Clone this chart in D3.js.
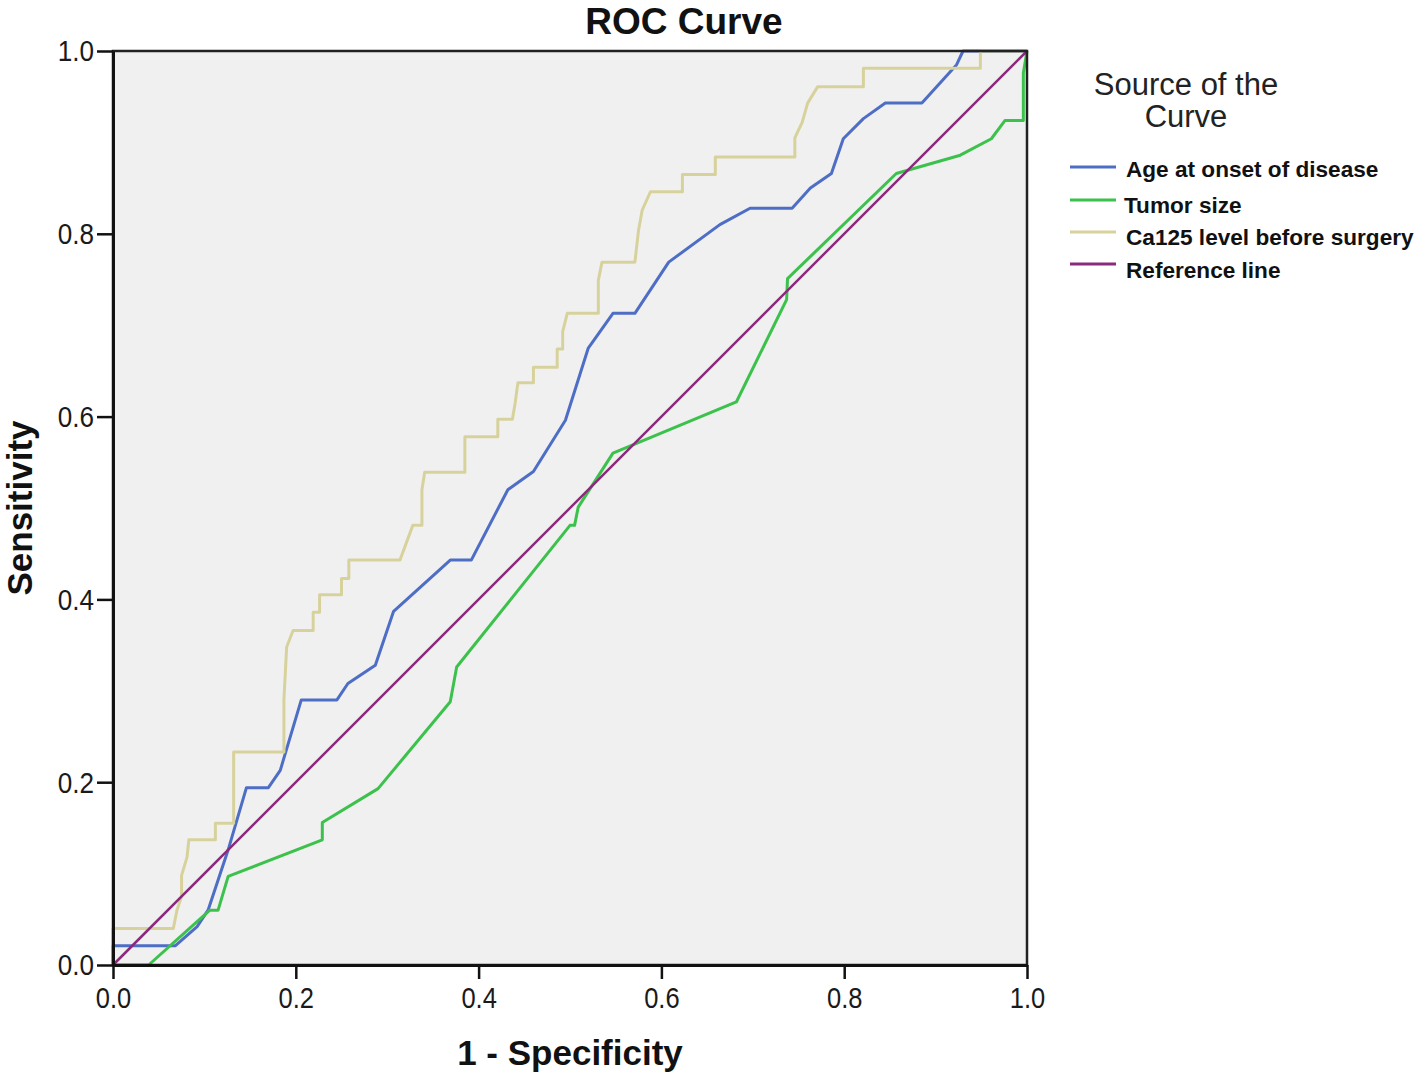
<!DOCTYPE html>
<html>
<head>
<meta charset="utf-8">
<script src="https://cdn.jsdelivr.net/npm/d3@7"></script>
<style>
  html, body { margin: 0; padding: 0; background: #ffffff; }
  svg { display: block; }
</style>
</head>
<body>
<svg id="chart" width="1418" height="1077"></svg>
<script>
// ---------- Data ----------
const chartTitle = "ROC Curve";
const xAxisTitle = "1 - Specificity";
const yAxisTitle = "Sensitivity";
const legendTitle = ["Source of the", "Curve"];
const tickValues = [0, 0.2, 0.4, 0.6, 0.8, 1.0];

const seriesNames = ["Age at onset of disease", "Tumor size", "Ca125 level before surgery", "Reference line"];

const ageFpr = [0, 0, 0.068, 0.092, 0.104, 0.126, 0.146, 0.170, 0.183, 0.206, 0.245, 0.257, 0.287, 0.307, 0.369, 0.392, 0.432, 0.460, 0.495, 0.520, 0.547, 0.571, 0.608, 0.664, 0.697, 0.743, 0.763, 0.786, 0.799, 0.821, 0.845, 0.885, 0.923, 0.930, 0.947, 1.0];
const ageTpr = [0, 0.021, 0.021, 0.042, 0.060, 0.126, 0.194, 0.194, 0.213, 0.290, 0.290, 0.308, 0.328, 0.387, 0.443, 0.443, 0.520, 0.540, 0.596, 0.675, 0.713, 0.713, 0.769, 0.810, 0.828, 0.828, 0.850, 0.866, 0.904, 0.926, 0.943, 0.943, 0.985, 1.0, 1.0, 1.0];

const tumorFpr = [0, 0.039, 0.106, 0.115, 0.126, 0.229, 0.229, 0.290, 0.369, 0.376, 0.500, 0.505, 0.509, 0.547, 0.682, 0.737, 0.738, 0.857, 0.927, 0.961, 0.976, 0.996, 0.996, 1.0];
const tumorTpr = [0, 0, 0.060, 0.060, 0.097, 0.137, 0.156, 0.193, 0.288, 0.326, 0.481, 0.481, 0.501, 0.560, 0.616, 0.728, 0.751, 0.866, 0.886, 0.904, 0.924, 0.924, 0.976, 1.0];

const ca125Fpr = [0, 0, 0.066, 0.070, 0.075, 0.075, 0.081, 0.083, 0.112, 0.112, 0.132, 0.132, 0.187, 0.187, 0.190, 0.197, 0.219, 0.219, 0.226, 0.226, 0.250, 0.250, 0.258, 0.258, 0.314, 0.328, 0.338, 0.338, 0.341, 0.385, 0.385, 0.421, 0.421, 0.437, 0.440, 0.443, 0.460, 0.460, 0.486, 0.486, 0.492, 0.492, 0.497, 0.531, 0.531, 0.535, 0.571, 0.575, 0.579, 0.588, 0.623, 0.623, 0.659, 0.659, 0.746, 0.746, 0.754, 0.760, 0.771, 0.821, 0.821, 0.949, 0.949, 1.0];
const ca125Tpr = [0, 0.040, 0.040, 0.060, 0.075, 0.098, 0.118, 0.137, 0.137, 0.155, 0.155, 0.233, 0.233, 0.290, 0.348, 0.366, 0.366, 0.386, 0.386, 0.405, 0.405, 0.423, 0.423, 0.443, 0.443, 0.481, 0.481, 0.520, 0.539, 0.539, 0.578, 0.578, 0.597, 0.597, 0.615, 0.637, 0.637, 0.654, 0.654, 0.674, 0.674, 0.693, 0.713, 0.713, 0.749, 0.769, 0.769, 0.804, 0.826, 0.846, 0.846, 0.865, 0.865, 0.884, 0.884, 0.905, 0.922, 0.943, 0.961, 0.961, 0.981, 0.981, 1.0, 1.0];

const refFpr = [0, 1];
const refTpr = [0, 1];

const seriesColors = ["#4e6ec6", "#3cc24c", "#d7d29c", "#8a2a7c"];

// ---------- Layout ----------
const svg = d3.select("#chart");
const plotLeft = 113, plotRight = 1027, plotTop = 51, plotBottom = 965;

const x = d3.scaleLinear().domain([0, 1]).range([plotLeft, plotRight]);
const y = d3.scaleLinear().domain([0, 1]).range([plotBottom, plotTop]);

// plot background
svg.append("rect")
  .attr("x", plotLeft).attr("y", plotTop)
  .attr("width", plotRight - plotLeft).attr("height", plotBottom - plotTop)
  .attr("fill", "#f0f0f0");

// series
const series = [
  { name: seriesNames[0], fpr: ageFpr, tpr: ageTpr, color: seriesColors[0], w: 3 },
  { name: seriesNames[1], fpr: tumorFpr, tpr: tumorTpr, color: seriesColors[1], w: 3 },
  { name: seriesNames[2], fpr: ca125Fpr, tpr: ca125Tpr, color: seriesColors[2], w: 3 },
  { name: seriesNames[3], fpr: refFpr, tpr: refTpr, color: seriesColors[3], w: 2.5 }
];

const line = d3.line().x(d => x(d[0])).y(d => y(d[1]));

svg.append("g").selectAll("path")
  .data(series)
  .join("path")
  .attr("d", s => line(s.fpr.map((v, i) => [v, s.tpr[i]])))
  .attr("fill", "none")
  .attr("stroke", s => s.color)
  .attr("stroke-width", s => s.w)
  .attr("stroke-linejoin", "round");

// frame
svg.append("rect")
  .attr("x", plotLeft).attr("y", plotTop)
  .attr("width", plotRight - plotLeft).attr("height", plotBottom - plotTop)
  .attr("fill", "none")
  .attr("stroke", "#222")
  .attr("stroke-width", 2.5);

const tickFont = "'Liberation Sans', Arial, sans-serif";

// axes
const xAxis = svg.append("g")
  .attr("transform", `translate(0,${plotBottom})`)
  .call(d3.axisBottom(x).tickValues(tickValues).tickFormat(d3.format(".1f")).tickSize(14).tickSizeOuter(0));
const yAxis = svg.append("g")
  .attr("transform", `translate(${plotLeft},0)`)
  .call(d3.axisLeft(y).tickValues(tickValues).tickFormat(d3.format(".1f")).tickSize(16).tickSizeOuter(0));

[xAxis, yAxis].forEach(g => {
  g.select(".domain").attr("stroke", "#111").attr("stroke-width", 3);
  g.selectAll(".tick line").attr("stroke", "#111").attr("stroke-width", 2.5);
  g.selectAll(".tick text")
    .attr("fill", "#1a1a1a")
    .style("font-family", tickFont)
    .style("font-size", "29px");
});
xAxis.selectAll(".tick text")
  .attr("x", 0).attr("y", 0).attr("dy", null)
  .attr("dominant-baseline", "alphabetic")
  .attr("transform", `translate(0,${1008 - plotBottom}) scale(0.88,1)`);
yAxis.selectAll(".tick text")
  .attr("x", 0).attr("dy", null)
  .attr("dominant-baseline", "central")
  .attr("text-anchor", "end")
  .attr("transform", "translate(-19,0) scale(0.9,1)");

// titles
svg.append("text")
  .attr("x", 684).attr("y", 34)
  .attr("text-anchor", "middle")
  .style("font-family", tickFont).style("font-weight", "bold").style("font-size", "37px")
  .attr("fill", "#111")
  .text(chartTitle);

svg.append("text")
  .attr("x", (plotLeft + plotRight) / 2).attr("y", 1065)
  .attr("text-anchor", "middle")
  .style("font-family", tickFont).style("font-weight", "bold").style("font-size", "35px")
  .attr("fill", "#111")
  .text(xAxisTitle);

svg.append("text")
  .attr("transform", `translate(32,${(plotTop + plotBottom) / 2}) rotate(-90)`)
  .attr("text-anchor", "middle")
  .style("font-family", tickFont).style("font-weight", "bold").style("font-size", "35px")
  .attr("fill", "#111")
  .text(yAxisTitle);

// legend
const legend = svg.append("g");
legend.selectAll("text.lt")
  .data(legendTitle)
  .join("text")
  .attr("class", "lt")
  .attr("x", 1186).attr("y", (d, i) => 95 + i * 32)
  .attr("text-anchor", "middle")
  .style("font-family", tickFont).style("font-size", "31px")
  .attr("fill", "#222")
  .text(d => d);

const rowY = [167, 200, 232, 264];
const items = legend.selectAll("g.item")
  .data(series)
  .join("g")
  .attr("class", "item")
  .attr("transform", (d, i) => `translate(1070,${rowY[i]})`);
items.append("line")
  .attr("x1", 0).attr("x2", 46)
  .attr("stroke", d => d.color).attr("stroke-width", 3);
items.append("text")
  .attr("x", (d, i) => i === 1 ? 54 : 56).attr("y", (d, i) => [2, 5, 5, 6][i])
  .attr("dominant-baseline", "central")
  .style("font-family", tickFont).style("font-weight", "bold").style("font-size", "22.6px")
  .attr("fill", "#111")
  .text(d => d.name);
</script>
</body>
</html>
